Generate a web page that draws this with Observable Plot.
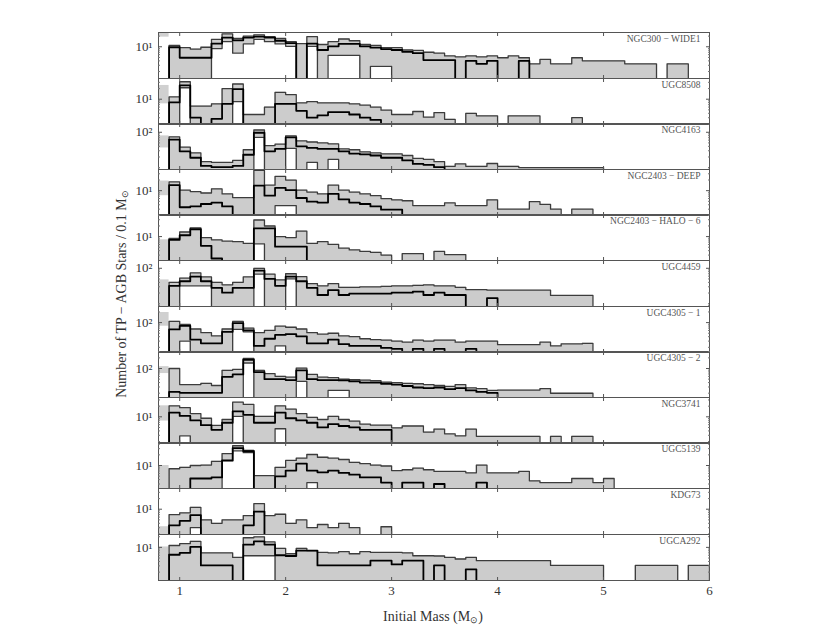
<!DOCTYPE html>
<html><head><meta charset="utf-8">
<script src="https://cdn.jsdelivr.net/npm/d3@7"></script>
<script src="https://cdn.jsdelivr.net/npm/@observablehq/plot@0.6"></script>
<style>
html,body{margin:0;padding:0;background:#fff;}
#chart{position:relative;width:830px;height:642px;background:#fff;overflow:hidden;font-family:"Liberation Serif",serif;color:#333;}
#chart svg{position:absolute;left:0;}
.ytitle{position:absolute;left:122px;top:294px;transform:translate(-50%,-50%) rotate(-90deg);white-space:nowrap;font-size:14px;}
.xtitle{position:absolute;left:433px;top:617px;transform:translate(-50%,-50%);white-space:nowrap;font-size:14px;}
sub{font-size:65%;vertical-align:-0.25em;line-height:0;}
</style></head><body><div id="chart"></div>
<script>
// ---- data ----
const names = ["NGC300 − WIDE1", "UGC8508", "NGC4163", "NGC2403 − DEEP", "NGC2403 − HALO − 6", "UGC4459",
  "UGC4305 − 1", "UGC4305 − 2", "NGC3741", "UGC5139", "KDG73", "UGCA292"];
const massEdges = [0.9,1.0,1.1,1.2,1.3,1.4,1.5,1.6,1.7,1.8,1.9,2.0,2.1,2.2,2.3,2.4,2.5,2.6,2.7,2.8,2.9,3.0,3.1,3.2,3.3,3.4,3.5,3.6,3.7,3.8,3.9,4.0,4.1,4.2,4.3,4.4,4.5,4.6,4.7,4.8,4.9,5.0,5.1,5.2,5.3,5.4,5.5,5.6,5.7,5.8,5.9,6.0];
const xTicks = [1, 2, 3, 4, 5, 6];
const majorExp = [1, 1, 2, 1, 1, 2, 2, 2, 1, 1, 1, 1];
const yDomains = [[1.27,25.3],[1.93,38.5],[8.85,177],[1.99,39.6],[2.11,42.1],[8.32,166],[14.3,285],[15.1,303],[1.76,35.2],[2.24,44.7],[1.93,38.5],[1.16,23.1]];
const patchBin = [0.8, 0.9];
const patchHi = [25, 24.5, 79, 18.7, 8.1, 47, 193, 113, 20.5, 10, 3.2, 10.3];
const patchLo = [18.7, 7.4, 36, 7.2, 0, 0, 79, 72, 7.6, 0, 0, 0];

const up1 = [10.9,9.4,8.6,9.7,16.1,23.1,17.1,19.9,21.8,19.3,17.1,13.9,12.3,19.3,11.6,13.9,16.6,14.8,11.6,10.9,9.4,9.4,8.1,7.9,7.0,6.6,5.5,5.2,5.5,5.2,5.5,4.9,5.5,4.9,3.3,4.4,3.3,3.3,4.9,4.0,4.0,4.0,4.0,3.3,3.3,3.3,0,3.3,3.3];
const med1 = [9.7,4.9,4.9,4.9,12.3,18.2,15.2,18.2,19.3,18.2,14.8,12.7,0,12.3,8.1,10.3,12.0,12.0,10.3,9.4,8.6,8.1,7.2,6.6,4.2,4.2,4.2,0,4.0,3.3,4.0,0,0,4.0];
const lo1 = [0,0,0,0,8.9,13.9,6.6,12.0,16.1,13.9,12.0,10.3,0,10.3,0,5.7,5.7,5.7,0,2.8,2.8];

const up2 = [11.6,31.2,6.4,6.4,7.4,19.9,26.9,3.7,3.7,6.0,15.7,13.5,7.9,8.6,7.9,7.9,7.9,7.4,6.8,6.0,4.9,3.7,3.7,4.5,3.1,4.2,2.7,0,4.0,3.4,3.4,0,3.4,3.4,3.4,0,0,0,3.0];
const med2 = [8.1,24.5,3.0,0,2.8,7.4,19.3,0,0,0,7.4,7.4,4.7,3.0,3.5,4.3,4.3,3.7,3.0,2.6];
const lo2 = [0,21.1,0,0,0,0,8.6];

const up3 = [74,38,26,14.7,14,14,16,32,116,42,46,79,57,53,50,47,34,32,28,26,24.5,24.5,22,18.2,17.1,14.7,10.9,12.7,10.9,10.9,13.1,10.9,10.9,10,10,10,10,10,10,10,10];
const med3 = [62,29,19,11.2,10.3,10.3,11.2,23.1,97,29,34,72,40,36,34,34,29,25,23.8,22,19,19,16,12.7,12,10.3];
const lo3 = [0,0,0,0,0,0,0,0,72,0,0,35,0,14,0,17.1];

const up4 = [17.7,10.3,9.4,8.6,11.3,8.1,6.4,6.4,37.3,14.3,25.3,19.9,10.3,9.1,8.1,14.3,10.3,9.1,8.1,7.2,6.0,5.5,5.2,3.8,3.8,3.8,4.5,3.8,3.8,3.8,5.5,3.0,3.0,3.0,4.9,4.1,3.0,0,3.0,3.0];
const med4 = [14.3,3.4,3.6,4.2,4.6,3.6,0,0,13.9,7.2,12,10.3,6.2,4.9,4.6,8.1,5.7,4.6,4.2,3.6,2.9,2.9];
const lo4 = [0,0,0,0,0,0,0,0,0,0,3.8,3.8];

const up5 = [8.9,13.5,17.7,9.4,8.1,7.4,7.2,6.4,29.4,19.9,10,9.4,14.3,6.4,7.2,6.0,4.7,4.2,3.8,3.6,3.0,0,3.3,3.3,0,3.8,3.1,3.1];
const med5 = [8.1,10.9,16.1,5.5,2.4,0,0,0,17.1,17.1,5.2,5.2,5.2];
const lo5 = [0,0,0,0,0,0,0,0,6.2];

const up6 = [40,53,74,57,40,34,40,57,100,68,47,70,58,37,32,37,29,29,30,30,31,32,32,33,34,32,32,29,25,25,24,24,24,24,24,24,17.1,17.1,17.1,17.1];
const med6 = [32,43,58,43,28,20.5,28,28,86,50,32,58,43,28,17.6,24,17.6,19.3,19.3,19.3,19.3,20.5,20.5,22,17.6,20.5,17.6,17.6,0,0,14.3];
const lo6 = [0,32,32,32,0,0,0,0,68,0,0,50];

const up7 = [109,89,66,52,42,66,109,70,52,60,79,74,66,52,47,50,42,40,35,33,32,30,28,32,30,32,32,28,30,30,30,23.8,23.8,23.8,23.8,28,22,25,25,26];
const med7 = [64,81,33,26,26,55,97,60,22,35,45,47,41,26,26,33,24.5,22,22,22,19.3,18.2,0,18.2,0,18.2,0,0,18.2];
const lo7 = [0,30,0,0,0,0,64,55,0,0,22];

const up8 = [100,35,35,38,33,89,94,193,89,72,60,57,103,68,57,55,50,48,47,45,41,40,38,37,35,33,31,35,28.4,26.8,24,24.5,24.5,24.5,24.5,26.8,19.9,19.9,19.9,19.9];
const med8 = [21.7,20.5,20.5,20.5,20.5,58,68,177,79,50,50,47,89,50,47,47,46,43,40,40,37,35,32,29,28,29,26,28,24,21.7,20.5];
const lo8 = [0,0,0,0,0,0,0,143,0,0,0,0,43,0,0,24,24];

const up9 = [20.5,18.2,12.3,9.1,5.7,8.4,26,22.4,10.3,10.3,20.5,16.6,12.3,9.7,8.4,10.3,8.4,7.6,6.2,5.8,5.8,4.9,5.5,5.5,3.7,4.5,3.3,2.9,4.5,2.8,2.8,2.8,2.8,2.8,2.8,0,2.8,0,2.8,2.8];
const med9 = [13.1,10.6,7.9,5.8,4.3,6.8,14.3,11.3,6.8,6.8,13.1,9.1,7.9,6.8,5.0,6.2,5.5,5.0,4.3,4.3,4.3];
const lo9 = [0,2.9,0,0,0,0,10.3,0,0,0,4.6];

const up10 = [8.1,8.9,10,10.3,13.1,21.8,36.2,26.9,5.2,5.2,8.9,13.9,16.1,20.5,17.1,16.1,14.8,12.3,11.3,10.3,9.7,7.2,7.6,8.4,7.6,6.8,6.8,6.8,6.2,10.3,6.2,6.2,6.2,6.8,3.7,3.3,3.3,3.3,4.3,4.3,3.3,4.3];
const med10 = [0,0,4.3,4.3,4.6,13.9,31.2,25.3,0,0,4.9,7.2,11.3,7.2,6.4,7.2,6.2,5.5,4.6,4.6,3.3,0,3.3,3.3,0,3.0,0,0,0,3.3];
const lo10 = [0,0,0,0,0,13.5,26,23.1,0,0,0,0,0,3.3];

const up11 = [7.0,7.9,11.3,5.0,4.0,5.0,5.0,6.6,14.3,6.6,7.2,4.0,5.0,3.0,3.7,3.0,4.0,3.0,0,0,3.2];
const med11 = [3.5,4.7,6.8,0,0,0,0,3.5,8.6];
const lo11 = [0,0,3.0];

const up12 = [11.3,12.7,14.8,7.0,7.0,7.0,5.2,18.7,19.9,14.3,9.4,6.6,9.4,8.1,7.2,7.0,7.6,6.6,7.6,7.2,7.2,7.2,7.0,5.8,5.8,5.7,5.2,4.7,5.2,4.2,4.2,4.2,4.2,4.2,4.2,4.2,3.1,3.1,3.1,3.1,3.1,0,0,0,3.1,3.1,3.1,3.1,0,3.1,3.1];
const med12 = [6.2,7.0,10.3,3.1,3.1,3.1,0,12.0,14.8,12.0,6.0,5.7,8.1,8.1,3.1,3.1,3.1,3.1,3.1,4.2,4.2,3.3,4.2,4.2,0,3.1,0,0,2.4];
const lo12 = [0,0,0,0,0,0,0,5.8,5.8,5.8];

const ups = [up1,up2,up3,up4,up5,up6,up7,up8,up9,up10,up11,up12];
const meds = [med1,med2,med3,med4,med5,med6,med7,med8,med9,med10,med11,med12];
const los = [lo1,lo2,lo3,lo4,lo5,lo6,lo7,lo8,lo9,lo10,lo11,lo12];

// ---- drawing ----
const supDigit = {0:"⁰",1:"¹",2:"²",3:"³"};
const chart = document.getElementById("chart");
const panelH = 45.6, top0 = 32;

function steps(vals, n, floor) {
  const pts = [{x: massEdges[0], y: floor}];
  for (let j = 0; j < n; j++) {
    const v = vals[j] || 0;
    pts.push({x: massEdges[j], y: v > 0 ? v : floor});
  }
  const lastV = vals[n - 1] || 0;
  pts.push({x: massEdges[n], y: lastV > 0 ? lastV : floor});
  pts.push({x: massEdges[n], y: floor});
  return pts;
}

function bandPts(up, lo, n, floor) {
  const pts = [];
  for (let j = 0; j < n; j++) {
    const u = up[j] || 0, l = lo[j] || 0;
    pts.push({x: massEdges[j], y1: u > 0 ? (l > 0 ? l : floor) : floor, y2: u > 0 ? u : floor});
  }
  const last = pts[pts.length - 1];
  pts.push({x: massEdges[n], y1: last.y1, y2: last.y2});
  return pts;
}

names.forEach((name, i) => {
  const last = i === names.length - 1;
  const dom = yDomains[i];
  const floor = dom[0] / 2;
  const up = ups[i], med = meds[i], lo = los[i];
  const n = up.length;
  const major = [10 ** majorExp[i]];
  const minor = [];
  for (let e = Math.floor(Math.log10(dom[0])); e <= Math.ceil(Math.log10(dom[1])); e++) {
    for (let m = 1; m <= 9; m++) {
      const v = m * 10 ** e;
      if (v >= dom[0] && v <= dom[1] && v !== major[0]) minor.push(v);
    }
  }
  const patch = [{x1: patchBin[0], x2: patchBin[1], y1: patchLo[i] > 0 ? patchLo[i] : floor, y2: patchHi[i]}];
  const marks = [
    Plot.rect(patch, {x1: "x1", x2: "x2", y1: "y1", y2: "y2", fill: "#d0d0d0", clip: true}),
    Plot.areaY(bandPts(up, lo, n, floor), {x: "x", y1: "y1", y2: "y2", curve: "step-after", fill: "#cccccc", clip: true}),
    Plot.line(steps(up, n, floor), {x: "x", y: "y", curve: "step-after", stroke: "#3c3c3c", strokeWidth: 1.3, clip: true}),
    Plot.line(steps(lo, n, floor), {x: "x", y: "y", curve: "step-after", stroke: "#3c3c3c", strokeWidth: 1.3, clip: true}),
    Plot.line(steps(med, med.length, floor), {x: "x", y: "y", curve: "step-after", stroke: "#000", strokeWidth: 1.8, clip: true}),
    Plot.frame({stroke: "#555", strokeWidth: 1}),
    Plot.axisY(major, {anchor: "left", tickSize: -4, tickPadding: 10, label: null, fontSize: 13, fill: "#333", stroke: "#555",
      tickFormat: d => "10" + supDigit[Math.round(Math.log10(d))]}),
    Plot.axisY(minor, {anchor: "left", tickSize: -2, label: null, fill: "none", stroke: "#777"}),
    Plot.axisY(major, {anchor: "right", tickSize: -4, label: null, fill: "none", stroke: "#555"}),
    Plot.axisY(minor, {anchor: "right", tickSize: -2, label: null, fill: "none", stroke: "#777"}),
    Plot.axisX(xTicks, {anchor: "top", tickSize: -3, label: null, fill: "none", stroke: "#555"}),
    last
      ? Plot.axisX(xTicks, {anchor: "bottom", tickSize: -3, tickPadding: 8, label: null, fontSize: 13, fill: "#333", stroke: "#555", tickFormat: d => String(d)})
      : Plot.axisX(xTicks, {anchor: "bottom", tickSize: -3, label: null, fill: "none", stroke: "#555"}),
    Plot.text([name], {text: d => d, frameAnchor: "top-right", dx: -9, dy: 3, lineAnchor: "top", textAnchor: "end", fontSize: 9.5, fill: "#555"})
  ];
  const svg = Plot.plot({
    width: 830,
    height: last ? 46 + 34 : 46,
    marginLeft: 158, marginRight: 121, marginTop: 0, marginBottom: last ? 34 : 0,
    x: {domain: [0.8, 6], axis: null},
    y: {type: "log", domain: dom, axis: null, label: null},
    style: {fontFamily: "Liberation Serif, serif", background: "transparent", overflow: "visible", color: "#333"},
    marks
  });
  svg.style.position = "absolute";
  svg.style.left = "0px";
  svg.style.top = Math.round(top0 + i * panelH) + "px";
  chart.appendChild(svg);
});

const yt = document.createElement("div");
yt.className = "ytitle";
yt.innerHTML = "Number of TP − AGB Stars / 0.1 M<sub>⊙</sub>";
chart.appendChild(yt);
const xt = document.createElement("div");
xt.className = "xtitle";
xt.innerHTML = "Initial Mass (M<sub>⊙</sub>)";
chart.appendChild(xt);
</script></body></html>
